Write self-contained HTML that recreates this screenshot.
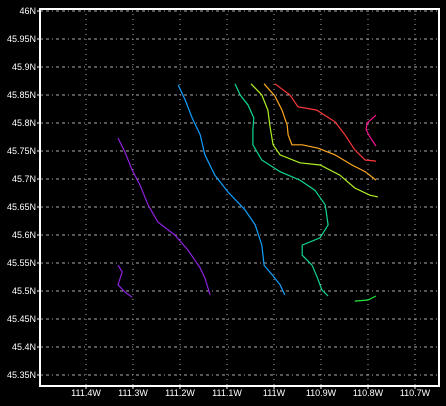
<!DOCTYPE html>
<html><head><meta charset="utf-8"><style>
html,body{margin:0;padding:0;background:#000;}
svg{display:block;font-family:"Liberation Sans",sans-serif;}
</style></head><body>
<svg id="chart" width="446" height="406" xmlns="http://www.w3.org/2000/svg">
<rect width="446" height="406" fill="#000"/>
<g id="grid"></g>
<g id="lines"></g>
<g id="axes"></g>
</svg>
<script>
const xTicks = [111.4, 111.3, 111.2, 111.1, 111.0, 110.9, 110.8, 110.7];
const xTickLabels = ["111.4W","111.3W","111.2W","111.1W","111W","110.9W","110.8W","110.7W"];
const yTicks = [46, 45.95, 45.9, 45.85, 45.8, 45.75, 45.7, 45.65, 45.6, 45.55, 45.5, 45.45, 45.4, 45.35];
const yTickLabels = ["46N","45.95N","45.9N","45.85N","45.8N","45.75N","45.7N","45.65N","45.6N","45.55N","45.5N","45.45N","45.4N","45.35N"];
const seriesNames = ["purple-a","purple-b","blue","teal","yellow-green","orange","red","magenta","green"];
const seriesColors = ["#9020e0","#9020e0","#10a0ff","#10d890","#b0f020","#ffa820","#ff3838","#ff1090","#20e840"];
const lonPurpleA = [111.332,111.317,111.302,111.285,111.268,111.247,111.211,111.183,111.157,111.147,111.136];
const latPurpleA = [45.773,45.748,45.716,45.689,45.654,45.623,45.600,45.573,45.541,45.523,45.493];
const lonPurpleB = [111.332,111.323,111.332,111.317,111.302];
const latPurpleB = [45.546,45.534,45.511,45.498,45.489];
const lonBlue = [111.204,111.189,111.174,111.157,111.147,111.126,111.098,111.062,111.040,111.026,111.021,111.004,110.987,110.977];
const latBlue = [45.868,45.841,45.809,45.779,45.743,45.707,45.677,45.645,45.618,45.582,45.546,45.529,45.511,45.493];
const lonTeal = [111.083,111.072,111.055,111.043,111.045,111.045,111.026,110.987,110.945,110.913,110.891,110.885,110.902,110.940,110.940,110.919,110.906,110.898,110.885];
const latTeal = [45.870,45.850,45.832,45.809,45.788,45.761,45.734,45.713,45.698,45.680,45.654,45.618,45.595,45.582,45.564,45.546,45.520,45.502,45.491];
const lonYG = [111.049,111.026,111.013,111.009,111.002,110.987,110.945,110.902,110.860,110.828,110.796,110.779];
const latYG = [45.870,45.850,45.823,45.796,45.761,45.743,45.729,45.725,45.707,45.684,45.671,45.668];
const lonOrange = [111.021,110.998,110.983,110.972,110.970,110.962,110.940,110.906,110.870,110.834,110.806,110.783];
const latOrange = [45.870,45.848,45.823,45.796,45.779,45.761,45.761,45.755,45.743,45.725,45.713,45.698];
const lonRed = [110.998,110.966,110.949,110.909,110.870,110.849,110.828,110.806,110.783];
const latRed = [45.870,45.850,45.829,45.823,45.802,45.779,45.752,45.734,45.732];
const lonMagenta = [110.783,110.802,110.804,110.796,110.783];
const latMagenta = [45.814,45.800,45.788,45.775,45.759];
const lonGreen = [110.828,110.800,110.783];
const latGreen = [45.482,45.484,45.491];
const allLon = [lonPurpleA,lonPurpleB,lonBlue,lonTeal,lonYG,lonOrange,lonRed,lonMagenta,lonGreen];
const allLat = [latPurpleA,latPurpleB,latBlue,latTeal,latYG,latOrange,latRed,latMagenta,latGreen];

const NS="http://www.w3.org/2000/svg";
const L=40,T=9,R=439,B=386;
function xs(lonW){return 86+(111.4-lonW)*470;}
function ys(lat){return 11+(46-lat)*560;}
function mk(tag,attrs,parent){const e=document.createElementNS(NS,tag);for(const k in attrs)e.setAttribute(k,attrs[k]);parent.appendChild(e);return e;}
const grid=document.getElementById('grid'),lines=document.getElementById('lines'),axes=document.getElementById('axes');
xTicks.forEach((t,i)=>{
  const x=xs(t);
  const g=mk('line',{x1:x,x2:x,y1:T,y2:B,stroke:'#aaa','stroke-width':1,'stroke-dasharray':'1,4'},grid);
  
  
  const tk=mk('line',{x1:x,x2:x,y1:B,y2:B+3,stroke:'#fff'},axes);
  
  
  const tx=mk('text',{x:x,y:B+10,fill:'#fff','font-size':9,'text-anchor':'middle'},axes);
  tx.textContent=xTickLabels[i];
  
  
});
yTicks.forEach((t,i)=>{
  const y=ys(t);
  const g=mk('line',{x1:L,x2:R,y1:y,y2:y,stroke:'#aaa','stroke-width':1,'stroke-dasharray':'3,3,3,3,1,3'},grid);
  
  
  const tk=mk('line',{x1:L-3,x2:L,y1:y,y2:y,stroke:'#fff'},axes);
  
  
  const tx=mk('text',{x:L-4,y:y+3,fill:'#fff','font-size':9,'text-anchor':'end'},axes);
  tx.textContent=yTickLabels[i];
  
  
});
const ax=mk('rect',{x:L,y:T,width:R-L,height:B-T,fill:'none',stroke:'#fff','stroke-width':2},axes);


allLon.forEach((lons,i)=>{
  const lats=allLat[i];
  const pts=lons.map((v,j)=>xs(v).toFixed(1)+','+ys(lats[j]).toFixed(1)).join(' ');
  const p=mk('polyline',{points:pts,fill:'none',stroke:seriesColors[i],'stroke-width':1.2},lines);
  
  
});
</script>
</body></html>
